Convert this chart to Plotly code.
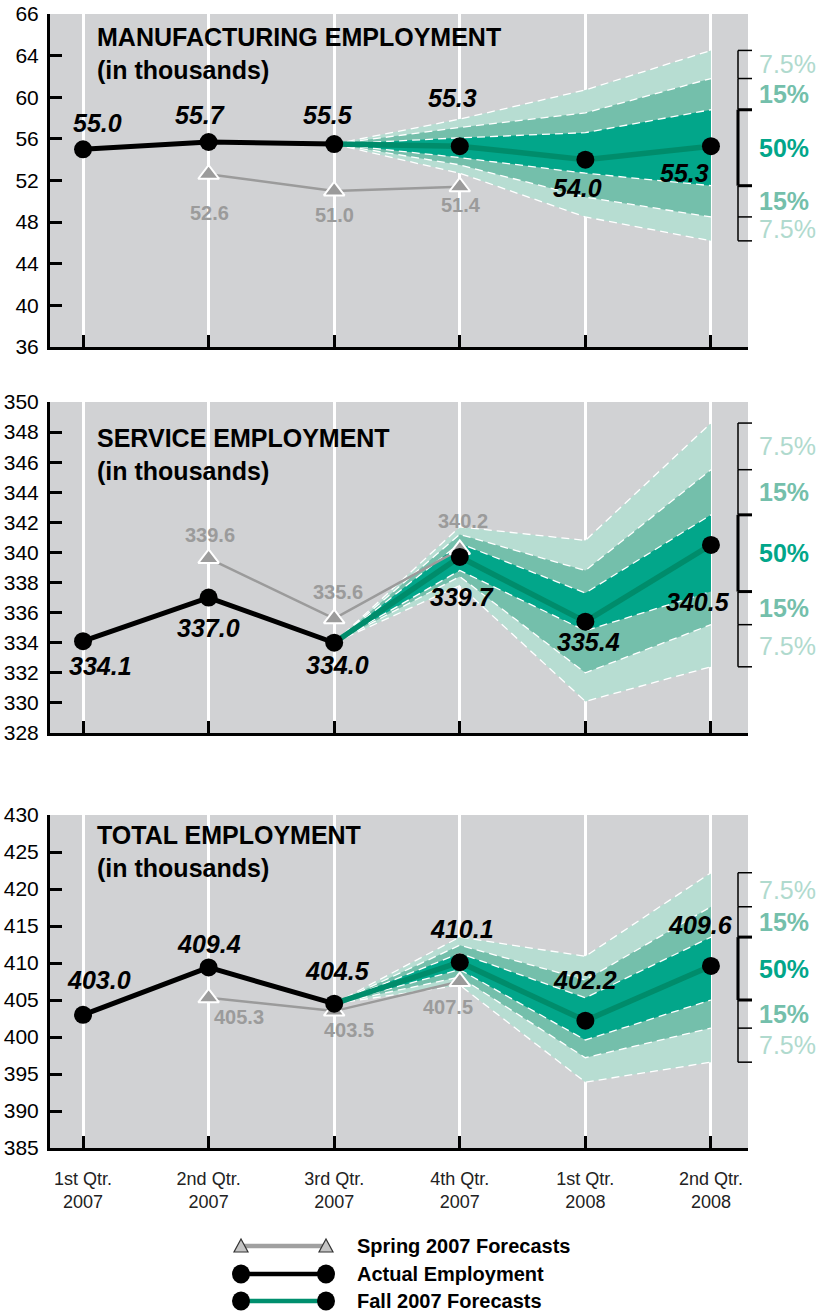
import plotly.graph_objects as go

W, H = 832, 1315
FONT = "Liberation Sans, Arial, Helvetica, sans-serif"

# ---------------- data ----------------
quarters = ["1st Qtr.<br>2007", "2nd Qtr.<br>2007", "3rd Qtr.<br>2007",
            "4th Qtr.<br>2007", "1st Qtr.<br>2008", "2nd Qtr.<br>2008"]
q_pos = [0, 1, 2, 3, 4, 5]

# Manufacturing employment (thousands)
mfg_actual = [55.0, 55.7, 55.5]      # 1Q07 - 3Q07
mfg_spring = [52.6, 51.0, 51.4]      # 2Q07 - 4Q07
mfg_fall = [55.3, 54.0, 55.3]        # 4Q07 - 2Q08
mfg_hi7 = [57.9, 60.7, 64.5]
mfg_hi15 = [57.1, 58.5, 61.8]
mfg_hi50 = [56.1, 56.6, 58.8]
mfg_lo50 = [54.2, 52.7, 51.5]
mfg_lo15 = [53.5, 50.4, 48.5]
mfg_lo7 = [52.7, 48.5, 46.2]
mfg_tickvals = [36, 40, 44, 48, 52, 56, 60, 64, 68]
mfg_ticktext = ["36", "40", "44", "48", "52", "56", "60", "64", "66"]

# Service employment (thousands)
svc_actual = [334.1, 337.0, 334.0]
svc_spring = [339.6, 335.6, 340.2]
svc_fall = [339.7, 335.4, 340.5]
svc_hi7 = [341.7, 340.8, 348.6]
svc_hi15 = [341.2, 338.8, 345.5]
svc_hi50 = [340.6, 337.3, 342.5]
svc_lo50 = [338.8, 334.8, 337.4]
svc_lo15 = [338.4, 332.0, 335.2]
svc_lo7 = [337.8, 330.1, 332.4]
svc_tickvals = list(range(328, 351, 2))
svc_ticktext = [str(v) for v in svc_tickvals]

# Total employment (thousands)
tot_actual = [403.0, 409.4, 404.5]
tot_spring = [405.3, 403.5, 407.5]
tot_fall = [410.1, 402.2, 409.6]
tot_hi7 = [413.5, 410.9, 422.2]
tot_hi15 = [412.4, 407.7, 417.6]
tot_hi50 = [411.3, 405.3, 413.5]
tot_lo50 = [409.1, 399.6, 405.0]
tot_lo15 = [408.1, 397.2, 401.2]
tot_lo7 = [407.0, 393.9, 396.6]
tot_tickvals = list(range(385, 431, 5))
tot_ticktext = [str(v) for v in tot_tickvals]

band_labels = ["7.5%", "15%", "50%", "15%", "7.5%"]
legend_labels = ["Spring 2007 Forecasts", "Actual Employment", "Fall 2007 Forecasts"]

# ---------------- styles ----------------
BG = "#d1d2d4"
LIGHT = "#b7ddd2"
MED = "#74bfab"
DARK = "#02a68a"
MEDIAN = "#008c6b"
SPRING = "#9b9b9b"
PCT_COLORS = ["#b0dace", "#74bfab", "#02a68a", "#74bfab", "#b0dace"]
PCT_BOLD = [False, True, True, True, False]

def py(px):
    return 1 - px / H

def pxx(px):
    return px / W

panels = [
    dict(actual=mfg_actual, spring=mfg_spring, fall=mfg_fall,
         bands=[mfg_hi7, mfg_hi15, mfg_hi50, mfg_lo50, mfg_lo15, mfg_lo7],
         rng=[36, 68], tv=mfg_tickvals, tt=mfg_ticktext,
         dom=[py(347), py(14)], title="MANUFACTURING EMPLOYMENT", ty=54,
         a_off=[(14, 26), (-9, 27), (-6, 29)],
         s_off=[(1, -39), (0, -24), (1, -18)],
         f_off=[(-7, 48), (-8, -28), (-26, -27)]),
    dict(actual=svc_actual, spring=svc_spring, fall=svc_fall,
         bands=[svc_hi7, svc_hi15, svc_hi50, svc_lo50, svc_lo15, svc_lo7],
         rng=[328, 350], tv=svc_tickvals, tt=svc_ticktext,
         dom=[py(733), py(402)], title="SERVICE EMPLOYMENT", ty=455,
         a_off=[(17, -25), (0, -30), (3, -22)],
         s_off=[(1, 23), (4, 27), (3, 28)],
         f_off=[(2, -40), (3, -20), (-13, -57)]),
    dict(actual=tot_actual, spring=tot_spring, fall=tot_fall,
         bands=[tot_hi7, tot_hi15, tot_hi50, tot_lo50, tot_lo15, tot_lo7],
         rng=[385, 430], tv=tot_tickvals, tt=tot_ticktext,
         dom=[py(1148), py(815)], title="TOTAL EMPLOYMENT", ty=851,
         a_off=[(16, 35), (0, 23), (3, 33)],
         s_off=[(30, -19), (15, -19), (-12, -25)],
         f_off=[(2, 33), (0, 41), (-10, 41)]),
]

fig = go.Figure()
annotations = []
shapes = []
layout_axes = {}

for i, p in enumerate(panels, start=1):
    xa = "x" if i == 1 else f"x{i}"
    ya = "y" if i == 1 else f"y{i}"
    xa_key = "xaxis" if i == 1 else f"xaxis{i}"
    ya_key = "yaxis" if i == 1 else f"yaxis{i}"
    hi7, hi15, hi50, lo50, lo15, lo7 = p["bands"]
    start = p["actual"][-1]
    fx = q_pos[2:6]
    common = dict(xaxis=xa, yaxis=ya, hoverinfo="skip", showlegend=False)

    # fan bands
    for hi, lo, col in [(hi7, lo7, LIGHT), (hi15, lo15, MED), (hi50, lo50, DARK)]:
        ys = [start] + hi + ([start] + lo)[::-1]
        fig.add_trace(go.Scatter(x=fx + fx[::-1], y=ys, mode="lines", fill="toself",
                                 fillcolor=col, line=dict(width=0), **common))
    for edge in p["bands"]:
        fig.add_trace(go.Scatter(x=fx, y=[start] + edge, mode="lines",
                                 line=dict(color="white", width=1.3, dash="8px,5px"), **common))
    # median
    fig.add_trace(go.Scatter(x=fx, y=[start] + p["fall"], mode="lines",
                             line=dict(color=MEDIAN, width=5.5), **common))
    # spring forecasts
    fig.add_trace(go.Scatter(x=q_pos[1:4], y=p["spring"], mode="lines+markers",
                             line=dict(color=SPRING, width=2.5),
                             marker=dict(symbol="triangle-up", size=18, color=SPRING,
                                         line=dict(color="white", width=2)), **common))
    # actual
    fig.add_trace(go.Scatter(x=q_pos[0:3], y=p["actual"], mode="lines+markers",
                             line=dict(color="black", width=5),
                             marker=dict(size=18, color="black"), **common))
    # fall forecast points
    fig.add_trace(go.Scatter(x=q_pos[3:6], y=p["fall"], mode="markers",
                             marker=dict(size=18, color="black"), **common))

    # data labels
    lab_black = dict(family=FONT, size=25, color="black", weight="bold", style="italic")
    lab_gray = dict(family=FONT, size=20, color=SPRING, weight="bold")
    for xs, vals, offs, fnt in [(q_pos[0:3], p["actual"], p["a_off"], lab_black),
                                (q_pos[3:6], p["fall"], p["f_off"], lab_black),
                                (q_pos[1:4], p["spring"], p["s_off"], lab_gray)]:
        for x, v, (dx, dy) in zip(xs, vals, offs):
            annotations.append(dict(x=x, y=v, xref=xa, yref=ya, text=f"{v:.1f}",
                                    showarrow=False, xshift=dx, yshift=dy, font=fnt))

    # titles
    annotations.append(dict(x=pxx(95), y=py(p["ty"]), xref="paper", yref="paper",
                            text=p["title"] + "<br>(in thousands)", showarrow=False,
                            xanchor="left", yanchor="middle", align="left",
                            font=dict(family=FONT, size=25, color="black", weight="bold")))

    # bracket at 2Q08 band values
    bx0, bx1 = pxx(738), pxx(752)
    ends = [b[-1] for b in p["bands"]]
    for k in range(5):
        thick = (k == 2)
        shapes.append(dict(type="line", xref="paper", yref=ya, x0=bx0, x1=bx0,
                           y0=ends[k], y1=ends[k + 1],
                           line=dict(color="black", width=3 if thick else 1.5)))
    for k, e in enumerate(ends):
        thick = k in (2, 3)
        shapes.append(dict(type="line", xref="paper", yref=ya, x0=bx0, x1=bx1, y0=e, y1=e,
                           line=dict(color="black", width=3 if thick else 1.5)))
    for k in range(5):
        mid = (ends[k] + ends[k + 1]) / 2
        annotations.append(dict(x=pxx(757), y=mid, xref="paper", yref=ya, text=band_labels[k],
                                showarrow=False, xanchor="left", yanchor="middle",
                                font=dict(family=FONT, size=25, color=PCT_COLORS[k],
                                          weight="bold" if PCT_BOLD[k] else "normal")))

    layout_axes[xa_key] = dict(domain=[pxx(50), pxx(748)], range=[-0.263, 5.295], anchor=ya,
                               tickvals=q_pos, ticktext=quarters, showticklabels=(i == 3),
                               ticks="inside", ticklen=12, tickwidth=2.5, tickcolor="black",
                               showline=True, linewidth=3, linecolor="black",
                               showgrid=True, gridcolor="white", gridwidth=2.5, zeroline=False,
                               tickfont=dict(family=FONT, size=18, color="#222"),
                               ticklabelstandoff=12, fixedrange=True, automargin=False)
    layout_axes[ya_key] = dict(domain=p["dom"], range=p["rng"], anchor=xa,
                               tickvals=p["tv"], ticktext=p["tt"],
                               ticks="inside", ticklen=12, tickwidth=2.5, tickcolor="black",
                               showline=True, linewidth=3, linecolor="black",
                               showgrid=False, zeroline=False,
                               tickfont=dict(family=FONT, size=21, color="black"),
                               ticklabelstandoff=4, fixedrange=True, automargin=False)

# ---------------- custom legend ----------------
rows = [1246, 1274, 1301]
lx0, lx1, ltext = 241, 326, 355
line_cols = ["#a0a0a0", "black", "#008f6e"]
for k, (ry, lab, lc) in enumerate(zip(rows, legend_labels, line_cols)):
    shapes.append(dict(type="line", xref="paper", yref="paper", x0=pxx(lx0), x1=pxx(lx1),
                       y0=py(ry), y1=py(ry), line=dict(color=lc, width=4.5)))
    for cx in (lx0, lx1):
        if k == 0:
            shapes.append(dict(type="path", xref="paper", yref="paper", xsizemode="pixel",
                               ysizemode="pixel", xanchor=pxx(cx), yanchor=py(ry),
                               path="M -7,-6 L 7,-6 L 0,7 Z", fillcolor="#c4c4c4",
                               line=dict(color="#333", width=1.2)))
        else:
            shapes.append(dict(type="circle", xref="paper", yref="paper", xsizemode="pixel",
                               ysizemode="pixel", xanchor=pxx(cx), yanchor=py(ry),
                               x0=-9, x1=9, y0=-9.5, y1=9.5, fillcolor="black",
                               line=dict(color="black", width=0)))
    annotations.append(dict(x=pxx(ltext), y=py(ry), xref="paper", yref="paper", text=lab,
                            showarrow=False, xanchor="left", yanchor="middle",
                            font=dict(family=FONT, size=20, color="black", weight="bold")))

fig.update_layout(width=W, height=H, margin=dict(l=0, r=0, t=0, b=0, pad=0, autoexpand=False),
                  autosize=False,
                  paper_bgcolor="white", plot_bgcolor=BG, showlegend=False,
                  annotations=annotations, shapes=shapes, **layout_axes)

fig.write_html("out.html")
